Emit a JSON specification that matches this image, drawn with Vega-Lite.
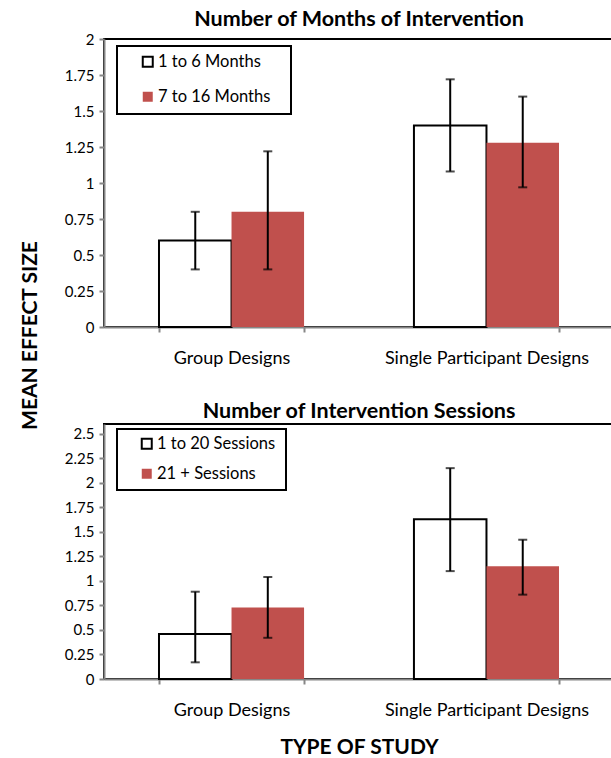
{
  "$schema": "https://vega.github.io/schema/vega-lite/v6.json",
  "padding": {"left": 18, "top": 7, "right": 0, "bottom": 0},
  "background": "white",
  "config": {
    "font": "Lato",
    "view": {"stroke": "black", "strokeWidth": 2},
    "legend": {"strokeWidth": 2},
    "axis": {"labelColor": "black", "domainColor": "#868686", "domainWidth": 2, "tickColor": "#868686", "tickWidth": 2, "tickSize": 5, "grid": false, "zindex": 1, "labelLimit": 300},
    "title": {"font": "Lato", "fontSize": 21.5, "fontWeight": "bold", "color": "black", "anchor": "middle", "offset": 2}
  },
  "bounds": "flush",
  "spacing": 97,
  "resolve": {
    "scale": {"xOffset": "independent", "fill": "independent", "stroke": "independent", "y": "independent"},
    "legend": {"fill": "independent", "stroke": "independent"}
  },
  "vconcat": [
    {
      "width": 510,
      "height": 288,
      "title": {"text": "Number of Months of Intervention"},
      "data": {"values": [
        {"design": "Group Designs", "group": "1 to 6 Months", "mean": 0.60, "lo": 0.40, "hi": 0.80},
        {"design": "Group Designs", "group": "7 to 16 Months", "mean": 0.80, "lo": 0.40, "hi": 1.22},
        {"design": "Single Participant Designs", "group": "1 to 6 Months", "mean": 1.40, "lo": 1.08, "hi": 1.72},
        {"design": "Single Participant Designs", "group": "7 to 16 Months", "mean": 1.28, "lo": 0.97, "hi": 1.60}
      ]},
      "encoding": {
        "x": {"field": "design", "type": "nominal", "sort": ["Group Designs", "Single Participant Designs"],
          "scale": {"paddingInner": 0.431, "paddingOuter": 0.2157},
          "axis": {"title": null, "labelAngle": 0, "labelFontSize": 18, "labelPadding": 17, "tickBand": "extent"}},
        "xOffset": {"field": "group", "type": "nominal", "sort": ["1 to 6 Months", "7 to 16 Months"], "scale": {"paddingInner": 0, "paddingOuter": 0}}
      },
      "layer": [
        {
          "mark": {"type": "bar", "strokeWidth": 2},
          "encoding": {
            "y": {"field": "mean", "type": "quantitative", "scale": {"domain": [0, 2]},
              "axis": {"values": [0, 0.25, 0.5, 0.75, 1, 1.25, 1.5, 1.75, 2], "format": ".2~f", "labelFontSize": 15, "labelPadding": 5,
                "title": "MEAN EFFECT SIZE", "titleFontSize": 21, "titleFontWeight": "bold", "titleColor": "black", "titleAngle": -90,
                "titleX": -74, "titleY": 296, "titleAlign": "center", "titleBaseline": "middle"}},
            "fill": {"field": "group", "type": "nominal", "scale": {"domain": ["1 to 6 Months", "7 to 16 Months"], "range": ["white", "#C0504D"]},
              "legend": {"title": null, "orient": "none", "legendX": 13, "legendY": 7, "padding": 7.5, "rowPadding": 16, "symbolOffset": 15, "labelOffset": 2,
                "labelFontSize": 16.5, "labelColor": "black", "symbolType": "square", "symbolSize": 100, "symbolStrokeWidth": 2, "strokeColor": "black", "fillColor": "white",
                "labelExpr": "datum.label + '\u00a0\u00a0\u00a0\u200b'"}},
            "stroke": {"field": "group", "type": "nominal", "scale": {"domain": ["1 to 6 Months", "7 to 16 Months"], "range": ["black", "transparent"]},
              "legend": {"title": null, "orient": "none", "legendX": 13, "legendY": 7, "padding": 7.5, "rowPadding": 16, "symbolOffset": 15, "labelOffset": 2,
                "labelFontSize": 16.5, "labelColor": "black", "symbolType": "square", "symbolSize": 100, "symbolStrokeWidth": 2, "strokeColor": "black", "fillColor": "white",
                "labelExpr": "datum.label + '\u00a0\u00a0\u00a0\u200b'"}}
          }
        },
        {
          "mark": {"type": "rule", "color": "black", "strokeWidth": 2},
          "encoding": {"y": {"field": "lo", "type": "quantitative", "axis": {"values": [0, 0.25, 0.5, 0.75, 1, 1.25, 1.5, 1.75, 2], "format": ".2~f", "labelFontSize": 15, "labelPadding": 5,
                "title": "MEAN EFFECT SIZE", "titleFontSize": 21, "titleFontWeight": "bold", "titleColor": "black", "titleAngle": -90,
                "titleX": -74, "titleY": 296, "titleAlign": "center", "titleBaseline": "middle"}}, "y2": {"field": "hi"}}
        },
        {
          "mark": {"type": "tick", "color": "black", "size": 9, "thickness": 2},
          "encoding": {"y": {"field": "lo", "type": "quantitative", "axis": {"values": [0, 0.25, 0.5, 0.75, 1, 1.25, 1.5, 1.75, 2], "format": ".2~f", "labelFontSize": 15, "labelPadding": 5,
                "title": "MEAN EFFECT SIZE", "titleFontSize": 21, "titleFontWeight": "bold", "titleColor": "black", "titleAngle": -90,
                "titleX": -74, "titleY": 296, "titleAlign": "center", "titleBaseline": "middle"}}}
        },
        {
          "mark": {"type": "tick", "color": "black", "size": 9, "thickness": 2},
          "encoding": {"y": {"field": "hi", "type": "quantitative", "axis": {"values": [0, 0.25, 0.5, 0.75, 1, 1.25, 1.5, 1.75, 2], "format": ".2~f", "labelFontSize": 15, "labelPadding": 5,
                "title": "MEAN EFFECT SIZE", "titleFontSize": 21, "titleFontWeight": "bold", "titleColor": "black", "titleAngle": -90,
                "titleX": -74, "titleY": 296, "titleAlign": "center", "titleBaseline": "middle"}}}
        }
      ]
    },
    {
      "width": 510,
      "height": 255,
      "title": {"text": "Number of Intervention Sessions"},
      "data": {"values": [
        {"design": "Group Designs", "group": "1 to 20 Sessions", "mean": 0.46, "lo": 0.17, "hi": 0.89},
        {"design": "Group Designs", "group": "21 + Sessions", "mean": 0.73, "lo": 0.42, "hi": 1.04},
        {"design": "Single Participant Designs", "group": "1 to 20 Sessions", "mean": 1.63, "lo": 1.10, "hi": 2.15},
        {"design": "Single Participant Designs", "group": "21 + Sessions", "mean": 1.15, "lo": 0.86, "hi": 1.42}
      ]},
      "encoding": {
        "x": {"field": "design", "type": "nominal", "sort": ["Group Designs", "Single Participant Designs"],
          "scale": {"paddingInner": 0.431, "paddingOuter": 0.2157},
          "axis": {"title": "TYPE OF STUDY", "titleFontSize": 21, "titleFontWeight": "bold", "titleColor": "black", "titlePadding": 17,
            "labelAngle": 0, "labelFontSize": 18, "labelPadding": 17, "tickBand": "extent"}},
        "xOffset": {"field": "group", "type": "nominal", "sort": ["1 to 20 Sessions", "21 + Sessions"], "scale": {"paddingInner": 0, "paddingOuter": 0}}
      },
      "layer": [
        {
          "mark": {"type": "bar", "strokeWidth": 2},
          "encoding": {
            "y": {"field": "mean", "type": "quantitative", "scale": {"domain": [0, 2.5]},
              "axis": {"values": [0, 0.25, 0.5, 0.75, 1, 1.25, 1.5, 1.75, 2, 2.25, 2.5], "format": ".2~f", "labelFontSize": 15, "labelPadding": 5, "title": null}},
            "fill": {"field": "group", "type": "nominal", "scale": {"domain": ["1 to 20 Sessions", "21 + Sessions"], "range": ["white", "#C0504D"]},
              "legend": {"title": null, "orient": "none", "legendX": 13, "legendY": 5, "padding": 6.5, "rowPadding": 11, "symbolOffset": 15, "labelOffset": 2,
                "labelFontSize": 16.5, "labelColor": "black", "symbolType": "square", "symbolSize": 100, "symbolStrokeWidth": 2, "strokeColor": "black", "fillColor": "white",
                "labelExpr": "datum.label + '\u00a0\u200b'"}},
            "stroke": {"field": "group", "type": "nominal", "scale": {"domain": ["1 to 20 Sessions", "21 + Sessions"], "range": ["black", "transparent"]},
              "legend": {"title": null, "orient": "none", "legendX": 13, "legendY": 5, "padding": 6.5, "rowPadding": 11, "symbolOffset": 15, "labelOffset": 2,
                "labelFontSize": 16.5, "labelColor": "black", "symbolType": "square", "symbolSize": 100, "symbolStrokeWidth": 2, "strokeColor": "black", "fillColor": "white",
                "labelExpr": "datum.label + '\u00a0\u200b'"}}
          }
        },
        {
          "mark": {"type": "rule", "color": "black", "strokeWidth": 2},
          "encoding": {"y": {"field": "lo", "type": "quantitative", "axis": {"values": [0, 0.25, 0.5, 0.75, 1, 1.25, 1.5, 1.75, 2, 2.25, 2.5], "format": ".2~f", "labelFontSize": 15, "labelPadding": 5, "title": null}}, "y2": {"field": "hi"}}
        },
        {
          "mark": {"type": "tick", "color": "black", "size": 9, "thickness": 2},
          "encoding": {"y": {"field": "lo", "type": "quantitative", "axis": {"values": [0, 0.25, 0.5, 0.75, 1, 1.25, 1.5, 1.75, 2, 2.25, 2.5], "format": ".2~f", "labelFontSize": 15, "labelPadding": 5, "title": null}}}
        },
        {
          "mark": {"type": "tick", "color": "black", "size": 9, "thickness": 2},
          "encoding": {"y": {"field": "hi", "type": "quantitative", "axis": {"values": [0, 0.25, 0.5, 0.75, 1, 1.25, 1.5, 1.75, 2, 2.25, 2.5], "format": ".2~f", "labelFontSize": 15, "labelPadding": 5, "title": null}}}
        }
      ]
    }
  ]
}
